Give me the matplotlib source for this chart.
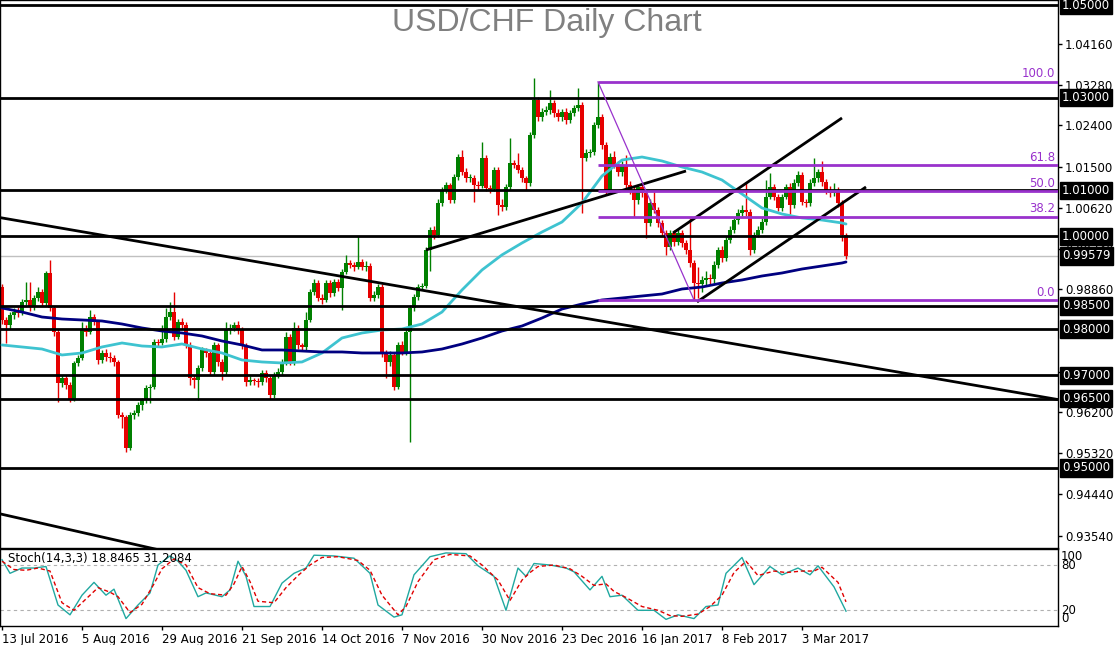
import numpy as np
import matplotlib
matplotlib.use("Agg")
import matplotlib.pyplot as plt
from matplotlib.transforms import blended_transform_factory

# ---------------- data ----------------
date_labels = ['13 Jul 2016', '5 Aug 2016', '29 Aug 2016', '21 Sep 2016', '14 Oct 2016',
               '7 Nov 2016', '30 Nov 2016', '23 Dec 2016', '16 Jan 2017', '8 Feb 2017', '3 Mar 2017']
date_label_bars = [0, 20, 40, 60, 80, 100, 120, 140, 160, 180, 200]

first_open = 0.9891
closes = [
    0.9820, 0.9809, 0.9830, 0.9837, 0.9835, 0.9859, 0.9863, 0.9848, 0.9867, 0.9880,
    0.9856, 0.9921, 0.9846, 0.9794, 0.9684, 0.9694, 0.9679, 0.9647, 0.9727, 0.9738,
    0.9798, 0.9794, 0.9826, 0.9815, 0.9733, 0.9748, 0.9740, 0.9738, 0.9729, 0.9615,
    0.9610, 0.9543, 0.9615, 0.9619, 0.9636, 0.9647, 0.9673, 0.9675, 0.9772, 0.9770,
    0.9779, 0.9826, 0.9837, 0.9783, 0.9815, 0.9809, 0.9766, 0.9694, 0.9690, 0.9716,
    0.9755, 0.9748, 0.9707, 0.9766, 0.9729, 0.9707, 0.9798, 0.9802, 0.9809, 0.9798,
    0.9766, 0.9686, 0.9690, 0.9688, 0.9685, 0.9705, 0.9694, 0.9658, 0.9701, 0.9707,
    0.9729, 0.9783, 0.9729, 0.9802, 0.9766, 0.9761, 0.9820, 0.9880, 0.9900, 0.9867,
    0.9863, 0.9900, 0.9878, 0.9902, 0.9889, 0.9923, 0.9943, 0.9939, 0.9934, 0.9945,
    0.9934, 0.9937, 0.9867, 0.9874, 0.9891, 0.9748, 0.9729, 0.9744, 0.9675, 0.9766,
    0.9751, 0.9794, 0.9846, 0.9869, 0.9891, 0.9893, 0.9971, 1.0014, 1.0003, 1.0072,
    1.0100, 1.0111, 1.0079, 1.0129, 1.0172, 1.0139, 1.0126, 1.0127, 1.0111, 1.0110,
    1.0170, 1.0105, 1.0103, 1.0144, 1.0068, 1.0064, 1.0107, 1.0159, 1.0155, 1.0144,
    1.0126, 1.0116, 1.0219, 1.0295, 1.0258, 1.0269, 1.0273, 1.0288, 1.0267, 1.0258,
    1.0269, 1.0252, 1.0267, 1.0278, 1.0284, 1.0170, 1.0180, 1.0182, 1.0241, 1.0258,
    1.0198, 1.0100, 1.0172, 1.0155, 1.0139, 1.0155, 1.0111, 1.0100, 1.0079, 1.0107,
    1.0094, 1.0029, 1.0072, 1.0057, 1.0029, 1.0008, 0.9977, 1.0008, 0.9988, 1.0008,
    0.9986, 0.9971, 0.9943, 0.9900, 0.9898, 0.9906, 0.9910, 0.9908, 0.9939, 0.9971,
    0.9954, 0.9993, 1.0014, 1.0036, 1.0051, 1.0057, 1.0053, 0.9971, 1.0003, 1.0014,
    1.0031, 1.0085, 1.0107, 1.0085, 1.0062, 1.0085, 1.0107, 1.0068, 1.0116, 1.0133,
    1.0075, 1.0072, 1.0116, 1.0126, 1.0139, 1.0118, 1.0100, 1.0094, 1.0100, 1.0072,
    1.0003, 0.9958]

highs = [
    0.9897, 0.9826, 0.9838, 0.9846, 0.9848, 0.9866, 0.9902, 0.9902, 0.9874, 0.9890,
    0.9886, 0.9925, 0.9949, 0.9850, 0.9800, 0.9700, 0.9700, 0.9686, 0.9732, 0.9745,
    0.9815, 0.9808, 0.9841, 0.9832, 0.9820, 0.9755, 0.9756, 0.9750, 0.9745, 0.9733,
    0.9622, 0.9615, 0.9620, 0.9626, 0.9642, 0.9652, 0.9680, 0.9682, 0.9778, 0.9778,
    0.9808, 0.9846, 0.9858, 0.9880, 0.9822, 0.9824, 0.9815, 0.9772, 0.9700, 0.9722,
    0.9762, 0.9760, 0.9752, 0.9772, 0.9770, 0.9735, 0.9815, 0.9810, 0.9815, 0.9818,
    0.9805, 0.9770, 0.9698, 0.9695, 0.9694, 0.9712, 0.9712, 0.9700, 0.9708, 0.9715,
    0.9736, 0.9794, 0.9790, 0.9815, 0.9808, 0.9770, 0.9836, 0.9886, 0.9908, 0.9905,
    0.9875, 0.9906, 0.9905, 0.9908, 0.9908, 0.9930, 0.9960, 0.9950, 0.9945, 1.0000,
    0.9952, 0.9948, 0.9942, 0.9882, 0.9898, 0.9897, 0.9755, 0.9752, 0.9750, 0.9772,
    0.9775, 0.9800, 0.9852, 0.9876, 0.9898, 0.9900, 0.9978, 1.0020, 1.0022, 1.0080,
    1.0106, 1.0118, 1.0115, 1.0135, 1.0178, 1.0187, 1.0148, 1.0135, 1.0132, 1.0120,
    1.0204, 1.0176, 1.0112, 1.0150, 1.0150, 1.0080, 1.0114, 1.0213, 1.0166, 1.0180,
    1.0150, 1.0130, 1.0226, 1.0342, 1.0302, 1.0278, 1.0282, 1.0316, 1.0295, 1.0275,
    1.0276, 1.0278, 1.0274, 1.0285, 1.0320, 1.0290, 1.0188, 1.0190, 1.0248, 1.0334,
    1.0265, 1.0205, 1.0180, 1.0185, 1.0162, 1.0162, 1.0175, 1.0120, 1.0108, 1.0114,
    1.0115, 1.0100, 1.0080, 1.0100, 1.0064, 1.0035, 1.0014, 1.0015, 1.0015, 1.0016,
    1.0014, 0.9992, 1.0040, 0.9950, 0.9935, 0.9915, 0.9925, 0.9918, 0.9948, 0.9978,
    0.9980, 1.0000, 1.0022, 1.0043, 1.0060, 1.0068, 1.0115, 1.0060, 1.0010, 1.0022,
    1.0040, 1.0122, 1.0137, 1.0114, 1.0092, 1.0092, 1.0114, 1.0115, 1.0124, 1.0142,
    1.0140, 1.0082, 1.0124, 1.0170, 1.0146, 1.0164, 1.0125, 1.0108, 1.0116, 1.0106,
    1.0078, 1.0008]

lows = [
    0.9812, 0.9770, 0.9800, 0.9822, 0.9826, 0.9830, 0.9852, 0.9840, 0.9842, 0.9860,
    0.9850, 0.9850, 0.9840, 0.9786, 0.9642, 0.9676, 0.9670, 0.9642, 0.9645, 0.9720,
    0.9733, 0.9785, 0.9790, 0.9808, 0.9725, 0.9726, 0.9732, 0.9730, 0.9720, 0.9608,
    0.9586, 0.9535, 0.9538, 0.9605, 0.9612, 0.9625, 0.9640, 0.9640, 0.9670, 0.9763,
    0.9765, 0.9772, 0.9820, 0.9776, 0.9778, 0.9800, 0.9760, 0.9680, 0.9672, 0.9647,
    0.9710, 0.9740, 0.9700, 0.9700, 0.9720, 0.9690, 0.9700, 0.9790, 0.9795, 0.9790,
    0.9758, 0.9678, 0.9680, 0.9680, 0.9676, 0.9680, 0.9686, 0.9648, 0.9652, 0.9695,
    0.9700, 0.9722, 0.9722, 0.9722, 0.9758, 0.9752, 0.9755, 0.9815, 0.9873, 0.9860,
    0.9855, 0.9858, 0.9870, 0.9872, 0.9882, 0.9841, 0.9918, 0.9932, 0.9926, 0.9930,
    0.9927, 0.9925, 0.9860, 0.9860, 0.9868, 0.9740, 0.9694, 0.9720, 0.9668, 0.9670,
    0.9744, 0.9745, 0.9556, 0.9840, 0.9862, 0.9884, 0.9888, 0.9925, 0.9995, 0.9998,
    1.0065, 1.0093, 1.0072, 1.0072, 1.0122, 1.0132, 1.0118, 1.0118, 1.0075, 1.0100,
    1.0105, 1.0098, 1.0095, 1.0098, 1.0046, 1.0055, 1.0058, 1.0100, 1.0148, 1.0138,
    1.0118, 1.0101, 1.0110, 1.0212, 1.0250, 1.0250, 1.0262, 1.0265, 1.0258, 1.0250,
    1.0250, 1.0244, 1.0245, 1.0260, 1.0270, 1.0050, 1.0162, 1.0172, 1.0175, 1.0235,
    1.0190, 1.0090, 1.0094, 1.0148, 1.0130, 1.0130, 1.0102, 1.0092, 1.0042, 1.0070,
    1.0086, 0.9997, 1.0022, 1.0050, 1.0020, 1.0000, 0.9960, 0.9970, 0.9980, 0.9982,
    0.9978, 0.9962, 0.9935, 0.9863, 0.9868, 0.9880, 0.9895, 0.9895, 0.9900, 0.9932,
    0.9945, 0.9948, 0.9985, 1.0008, 1.0028, 1.0044, 1.0045, 0.9960, 0.9965, 0.9998,
    1.0008, 1.0025, 1.0080, 1.0078, 1.0055, 1.0055, 1.0080, 1.0048, 1.0062, 1.0110,
    1.0068, 1.0064, 1.0065, 1.0110, 1.0118, 1.0110, 1.0092, 1.0086, 1.0088, 1.0064,
    0.9990, 0.9952]

# moving averages sampled every 5 bars (plus the last bar)
ma_bars = list(range(0, 211, 5)) + [211]
ma_fast = [0.97657, 0.97614, 0.97570, 0.97441, 0.97484, 0.97614, 0.97700, 0.97635, 0.97614, 0.97679,
           0.97570, 0.97484, 0.97333, 0.97290, 0.97268, 0.97290, 0.97484, 0.97808, 0.97916, 0.97981,
           0.98002, 0.98110, 0.98369, 0.98845, 0.99277, 0.99603, 0.99860, 1.00097, 1.00313, 1.00724,
           1.01307, 1.01652, 1.01717, 1.01631, 1.01501, 1.01393, 1.01220, 1.00918, 1.00616, 1.00486,
           1.00400, 1.00356, 1.00292, 1.00270]
ma_slow = [0.98456, 0.98369, 0.98261, 0.98218, 0.98197, 0.98175, 0.98110, 0.98024, 0.97959, 0.97916,
           0.97851, 0.97743, 0.97657, 0.97549, 0.97549, 0.97527, 0.97506, 0.97506, 0.97484, 0.97484,
           0.97484, 0.97506, 0.97570, 0.97678, 0.97808, 0.97959, 0.98067, 0.98240, 0.98434, 0.98542,
           0.98629, 0.98672, 0.98715, 0.98758, 0.98866, 0.98909, 0.98996, 0.99061, 0.99147, 0.99212,
           0.99298, 0.99363, 0.99428, 0.99450]

# key levels
levels = [1.05, 1.03, 1.01, 1.00, 0.985, 0.98, 0.97, 0.965, 0.95]
last_price = 0.99579
axis_ticks = [1.0416, 1.0328, 1.0240, 1.0150, 1.0062, 0.9974, 0.9886, 0.9708,
              0.9620, 0.9532, 0.9444, 0.9354]

# trend lines (bar, price) endpoints
trend_lines = [
    ((-0.5, 1.00408), (264.0, 0.96478)),
    ((-0.5, 0.94010), (60.0, 0.92824)),
    ((106.0, 0.99709), (171.0, 1.01415)),
    ((167.75, 1.00076), (210.0, 1.02560)),
    ((173.75, 0.98586), (216.0, 1.01070)),
]

# fibonacci retracement
fib_high_bar, fib_high = 149, 1.0334
fib_low_bar, fib_low = 173, 0.9863
fib_ratios = [0.0, 38.2, 50.0, 61.8, 100.0]

# stochastic (14,3,3)
stoch_k_bars = [0, 2, 5, 8, 11, 14, 17, 20, 23, 26, 28, 31, 34, 37, 39, 42, 44, 46, 49, 51,
                55, 57, 59, 61, 63, 67, 70, 73, 76, 78, 83, 88, 92, 94, 98, 100, 103, 107, 111, 116,
                119, 123, 126, 129, 131, 133, 137, 141, 143, 147, 150, 152, 155, 159, 163, 166, 169, 173, 176, 179,
                181, 185, 188, 192, 195, 199, 202, 204, 208, 211]
stoch_k = [87, 69, 76, 76, 78, 27, 14, 40, 57, 40, 48, 9, 27, 43, 80, 92, 85, 73, 38, 43,
           38, 47, 85, 65, 25, 25, 56, 69, 76, 93, 92, 89, 69, 27, 11, 14, 67, 91, 96, 95,
           79, 65, 20, 76, 65, 82, 80, 76, 71, 47, 65, 38, 40, 20, 20, 8, 14, 9, 25, 27,
           69, 90, 54, 78, 67, 76, 67, 79, 51, 18.8465]
stoch_d_bars = [0, 3, 6, 9, 12, 15, 18, 21, 24, 27, 29, 32, 35, 38, 40, 43, 46, 49, 52, 56,
                58, 60, 62, 64, 68, 71, 74, 77, 80, 84, 89, 92, 95, 99, 101, 104, 108, 112, 117, 120,
                124, 127, 130, 132, 134, 138, 142, 145, 148, 151, 153, 156, 160, 164, 167, 170, 174, 177, 180, 183,
                186, 189, 193, 196, 200, 203, 205, 209, 211]
stoch_d = [85, 74, 73, 76, 72, 30, 20, 35, 50, 44, 38, 17, 28, 55, 75, 88, 80, 50, 42, 40,
           55, 78, 58, 32, 30, 50, 66, 80, 90, 91, 86, 73, 40, 14, 25, 58, 87, 94, 92, 80,
           60, 33, 60, 70, 78, 80, 75, 65, 53, 55, 45, 37, 25, 20, 13, 12, 15, 25, 40, 70,
           85, 66, 72, 70, 72, 72, 77, 57, 31.2084]

# ---------------- figure ----------------
W, H = 1115, 645
fig = plt.figure(figsize=(W / 100, H / 100), dpi=100)
fig.patch.set_facecolor('white')

PX_PER_BAR = 4.0
PLOT_RIGHT = 1058


def px_axes(x0, y0, x1, y1):
    return fig.add_axes([x0 / W, 1 - y1 / H, (x1 - x0) / W, (y1 - y0) / H])


ax = px_axes(0, 0, PLOT_RIGHT, 548)
ax2 = px_axes(0, 549, PLOT_RIGHT, 626)

xmin = -0.5
xmax = xmin + PLOT_RIGHT / PX_PER_BAR
ax.set_xlim(xmin, xmax)
ax2.set_xlim(xmin, xmax)
ax.set_ylim(0.93272, 1.05108)
ax2.set_ylim(-0.8, 101.2)

FONT = 'DejaVu Sans'
GREEN = '#008000'
RED = '#E60000'
PURPLE = '#9932CC'

# candles
c = np.array(closes)
o = np.concatenate([[first_open], c[:-1]])
hi = np.maximum(np.array(highs), np.maximum(o, c))
lo = np.minimum(np.array(lows), np.minimum(o, c))
idx = np.arange(len(c))
cols = np.where(c >= o, GREEN, RED)
ax.vlines(idx, lo, hi, colors=cols, linewidth=1.0, zorder=2)
body_bottom = np.minimum(o, c)
body_h = np.maximum(np.abs(c - o), 0.00018)
ax.bar(idx, body_h, bottom=body_bottom, width=0.78, color=cols, linewidth=0, zorder=2)

# moving averages
ax.plot(ma_bars, ma_fast, color='#3EC3D0', lw=2.0, zorder=3, solid_capstyle='round')
ax.plot(ma_bars, ma_slow, color='#000080', lw=2.0, zorder=3, solid_capstyle='round')

# horizontal levels
for lv in levels:
    ax.axhline(lv, color='black', lw=2.0, zorder=4)
ax.axhline(last_price, color='#C0C0C0', lw=1.0, zorder=1)

# trend lines
for (x0, y0), (x1, y1) in trend_lines:
    ax.plot([x0, x1], [y0, y1], color='black', lw=2.0, zorder=4, solid_capstyle='butt')

# fibonacci
rng = fib_high - fib_low
ax.plot([fib_high_bar, fib_low_bar], [fib_high, fib_low], color=PURPLE, lw=0.9, zorder=4)
for r in fib_ratios:
    lvl = fib_low + rng * r / 100.0
    ax.plot([fib_high_bar, xmax], [lvl, lvl], color=PURPLE, lw=2.0, zorder=4, solid_capstyle='butt')
    ax.text(xmax - 0.8, lvl + 0.0003, f'{r:.1f}', color=PURPLE, fontsize=8.5, family=FONT,
            ha='right', va='bottom', zorder=5)

# right price axis
ax.yaxis.tick_right()
ax.set_yticks(axis_ticks)
ax.set_yticklabels([f'{t:.5f}' for t in axis_ticks], fontsize=8.5, family=FONT)
ax.tick_params(axis='y', length=3, width=1, pad=2, colors='black')
ax.set_xticks([])
trans = blended_transform_factory(ax.transAxes, ax.transData)
for lv in levels + [last_price]:
    ax.text(1.0 + 4 / PLOT_RIGHT, lv, f'{lv:.5f}', transform=trans, color='white', fontsize=8.5,
            family=FONT, ha='left', va='center', zorder=20, clip_on=False,
            bbox=dict(boxstyle='square,pad=0.18', facecolor='black', edgecolor='black'))
for sp in ax.spines.values():
    sp.set_color('black')
    sp.set_linewidth(1.0)

# title
fig.text(547 / W, 1 - 23 / H, 'USD/CHF Daily Chart', ha='center', va='center',
         color='#808080', fontsize=23, family='Liberation Sans')

# stochastic panel
ax2.axhline(80, color='#B0B0B0', lw=0.8, ls=(0, (3, 3)))
ax2.axhline(20, color='#B0B0B0', lw=0.8, ls=(0, (3, 3)))
ax2.plot(stoch_k_bars, stoch_k, color='#20A8A0', lw=1.0, zorder=3)
ax2.plot(stoch_d_bars, stoch_d, color='#E00000', lw=1.0, ls=(0, (3, 2)), zorder=3)
ax2.text(1.5, 97, f'Stoch(14,3,3) {stoch_k[-1]:.4f} {stoch_d[-1]:.4f}', fontsize=8.5,
         family=FONT, ha='left', va='top', color='black')
ax2.set_yticks([])
trans2 = blended_transform_factory(ax2.transAxes, ax2.transData)
for val, lab, va in [(100, '100', 'top'), (80, '80', 'center'), (20, '20', 'center'), (0, '0', 'bottom')]:
    ax2.text(1.0 + 3 / PLOT_RIGHT, val, lab, transform=trans2, fontsize=8.5, family=FONT,
             ha='left', va=va, clip_on=False)
ax2.set_xticks(date_label_bars)
ax2.set_xticklabels(date_labels, fontsize=8.5, family=FONT, ha='left')
ax2.tick_params(axis='x', length=3, width=1, pad=2)
for sp in ax2.spines.values():
    sp.set_color('black')
    sp.set_linewidth(1.0)

fig.savefig('out.png', dpi=100, facecolor='white')
